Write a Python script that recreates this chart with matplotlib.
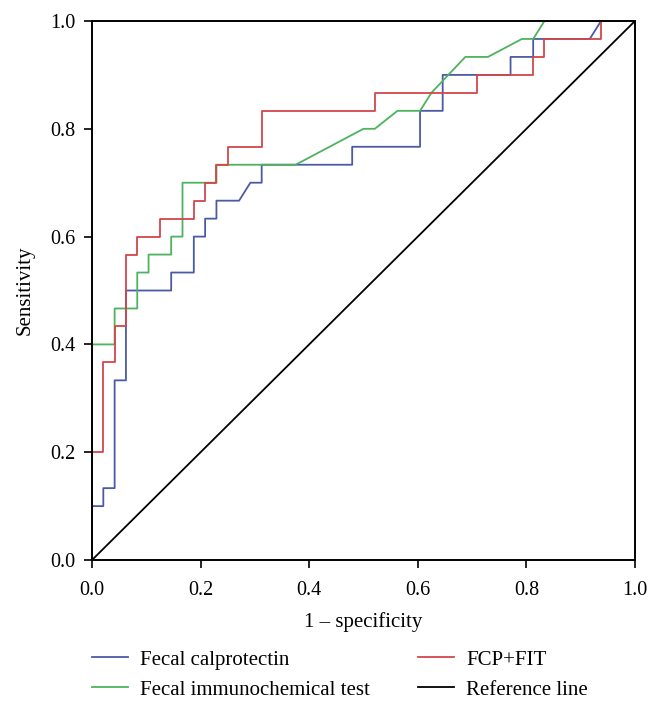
import matplotlib
matplotlib.use("Agg")
import matplotlib.pyplot as plt
import numpy as np

plt.rcParams['font.family'] = ['Liberation Serif', 'DejaVu Serif']

# ROC points (counts: 48 negatives, 30 positives)
n_neg = 48
n_pos = 30

fcp_fp = [0, 0, 1, 1, 2, 2, 3, 3, 7, 7, 9, 9, 10, 10, 11, 11, 13, 14, 15, 15,
          23, 23, 29, 29, 31, 31, 37, 37, 39, 39, 44, 45, 48]
fcp_tp = [0, 3, 3, 4, 4, 10, 10, 15, 15, 16, 16, 18, 18, 19, 19, 20, 20, 21, 21, 22,
          22, 23, 23, 25, 25, 27, 27, 28, 28, 29, 29, 30, 30]

fit_fp = [0, 0, 2, 2, 4, 4, 5, 5, 7, 7, 8, 8, 11, 11, 18, 24, 25, 27, 29, 30,
          33, 35, 38, 39, 40, 48]
fit_tp = [0, 12, 12, 14, 14, 16, 16, 17, 17, 18, 18, 21, 21, 22, 22, 24, 24, 25, 25, 26,
          28, 28, 29, 29, 30, 30]

comb_fp = [0, 0, 1, 1, 2, 2, 3, 3, 4, 4, 6, 6, 9, 9, 10, 10, 11, 11, 12, 12,
           15, 15, 25, 25, 34, 34, 39, 39, 40, 40, 45, 45, 48]
comb_tp = [0, 6, 6, 11, 11, 13, 13, 17, 17, 18, 18, 19, 19, 20, 20, 21, 21, 22, 22, 23,
           23, 25, 25, 26, 26, 27, 27, 28, 28, 29, 29, 30, 30]

ref_x = [0, 1]
ref_y = [0, 1]

fig = plt.figure(figsize=(6.6, 7.07), dpi=100)
ax = fig.add_axes([0.1394, 0.2079, 0.8227, 0.7624])

lw = 1.3
l1, = ax.plot(np.array(fcp_fp) / n_neg, np.array(fcp_tp) / n_pos, color='#4b5aa6', lw=lw)
l2, = ax.plot(np.array(fit_fp) / n_neg, np.array(fit_tp) / n_pos, color='#4db35e', lw=lw)
l3, = ax.plot(np.array(comb_fp) / n_neg, np.array(comb_tp) / n_pos, color='#d2474c', lw=lw)
l4, = ax.plot(ref_x, ref_y, color='black', lw=lw)

ax.set_xlim(0, 1)
ax.set_ylim(0, 1)
ticks = [0.0, 0.2, 0.4, 0.6, 0.8, 1.0]
ax.set_xticks(ticks)
ax.set_yticks(ticks)
ax.set_xticklabels(['%.1f' % t for t in ticks])
ax.set_yticklabels(['%.1f' % t for t in ticks])
ax.tick_params(direction='out', length=6, width=1.2, labelsize=14.5)
ax.tick_params(axis='x', pad=9)
ax.tick_params(axis='y', pad=6)
for s in ax.spines.values():
    s.set_linewidth(1.4)

ax.set_xlabel('1 \u2013 specificity', fontsize=15, labelpad=9)
ax.set_ylabel('Sensitivity', fontsize=15, labelpad=11)

leg_kw = dict(frameon=False, loc='upper left', fontsize=15, borderpad=0,
              borderaxespad=0, handlelength=1.75, handletextpad=0.55, labelspacing=0.5)
leg1 = fig.legend([l1, l2], ['Fecal calprotectin', 'Fecal immunochemical test'],
                  bbox_to_anchor=(92 / 660, 1 - 650 / 707), **leg_kw)
leg2 = fig.legend([l3, l4], ['FCP+FIT', 'Reference line'],
                  bbox_to_anchor=(418 / 660, 1 - 650 / 707), **leg_kw)

fig.savefig('out.png', dpi=100)
